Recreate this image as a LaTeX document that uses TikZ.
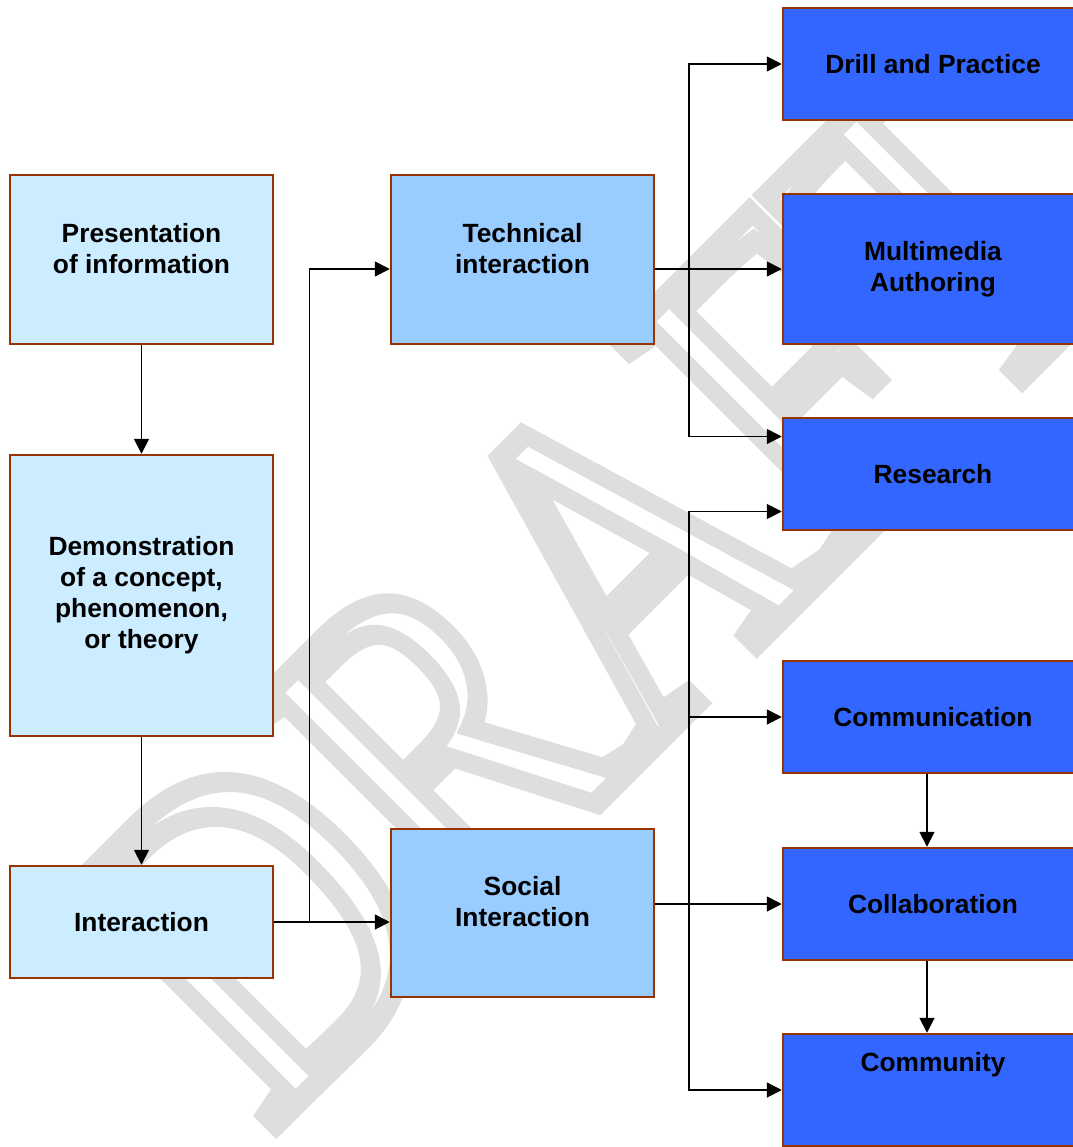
\documentclass[tikz,border=0pt]{standalone}
\usepackage{fontspec}
\setmainfont{Liberation Sans}
\newfontfamily\draftfont{Liberation Serif}
\usetikzlibrary{arrows.meta}

\definecolor{stagefill}{RGB}{204,236,255}
\definecolor{modefill}{RGB}{153,204,255}
\definecolor{usefill}{RGB}{51,102,255}
\definecolor{boxedge}{RGB}{153,51,0}
\definecolor{draftgrey}{RGB}{222,222,222}

\tikzstyle{block} = [rectangle, draw=boxedge, line width=1.4pt, align=center, text centered, font=\fontsize{15}{17.6}\selectfont\bfseries]
\tikzstyle{stage} = [block, fill=stagefill, minimum width=5.26cm]
\tikzstyle{modebox} = [block, fill=modefill, minimum width=5.26cm]
\tikzstyle{usebox} = [block, fill=usefill, minimum width=6cm, minimum height=2.24cm]
\tikzstyle{arrow} = [line width=1pt, -{Triangle[length=0.3cm,width=0.3cm]}]

\begin{document}
\begin{tikzpicture}[node distance=2cm]
  \clip (0,0) rectangle (21.46,-22.94);
  \fill [white] (0,0) rectangle (21.46,-22.94);
  % watermark behind the boxes
  \node (draft) [rotate=45, yscale=1.25, inner sep=0, text=draftgrey] at (11.9,-11.7)
    {\draftfont\fontsize{215}{215}\selectfont\special{pdf:literal direct 1 Tr 10 w}DRAFT\special{pdf:literal direct 0 Tr}};

  \node (pres) [stage, minimum height=3.38cm, text depth=0.46cm] at (2.83,-5.19) {Presentation\\of information};
  \node (demo) [stage, below of=pres, yshift=-4.72cm, minimum height=5.62cm] {Demonstration\\of a concept,\\phenomenon,\\or theory};
  \node (inter) [stage, below of=demo, yshift=-4.53cm, minimum height=2.24cm] {Interaction};
  \node (tech) [modebox, right of=pres, xshift=5.62cm, minimum height=3.38cm, text depth=0.46cm] {Technical\\interaction};
  \node (social) [modebox, below of=tech, yshift=-11.07cm, minimum height=3.36cm, text depth=0.46cm] {Social\\Interaction};
  \node (multi) [usebox, right of=tech, xshift=6.21cm, yshift=-0.19cm, minimum height=3cm] {Multimedia\\Authoring};
  \node (drill) [usebox, above of=multi, yshift=2.1cm] {Drill and Practice};
  \node (research) [usebox, below of=multi, yshift=-2.1cm] {Research};
  \node (comm) [usebox, below of=research, yshift=-2.86cm] {Communication};
  \node (collab) [usebox, below of=comm, yshift=-1.74cm] {Collaboration};
  \node (commu) [usebox, below of=collab, yshift=-1.72cm, text depth=1.14cm] {Community};

  \draw [arrow] (pres) -- (demo);
  \draw [arrow] (demo) -- (inter);
  \draw [arrow] (inter) -- coordinate[pos=0.305] (fork1) (inter -| social.west);
  \draw [arrow] (fork1) |- (tech.west |- multi);
  \draw [arrow] (tech.east |- multi) -- coordinate[pos=0.264] (fork2) (multi);
  \draw [arrow] (fork2) |- (drill);
  \draw [arrow] (fork2) |- ([yshift=0.75cm]research.west);
  \draw [arrow] (social.east |- collab) -- coordinate[pos=0.264] (fork3) (collab);
  \draw [arrow] (fork3) |- ([yshift=-0.75cm]research.west);
  \draw [arrow] (fork3) |- (comm);
  \draw [arrow] (fork3) |- (commu);
  \draw [arrow] ([xshift=-0.12cm]comm.south) -- ([xshift=-0.12cm]collab.north);
  \draw [arrow] ([xshift=-0.12cm]collab.south) -- ([xshift=-0.12cm]commu.north);
\end{tikzpicture}
\end{document}
